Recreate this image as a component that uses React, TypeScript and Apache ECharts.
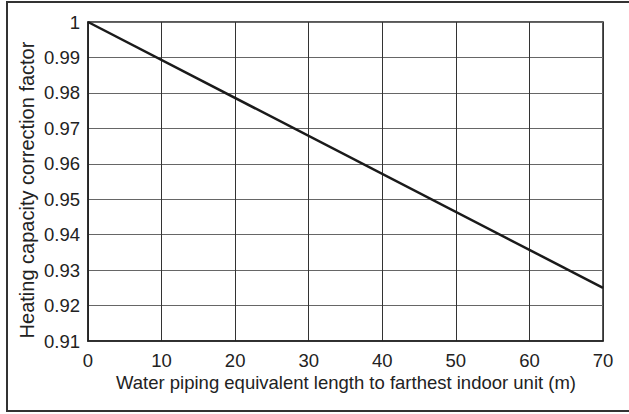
import React, { useEffect, useRef } from "react";
import * as echarts from "echarts";

const lengthX: number[] = [0, 70];
const correctionY: number[] = [1.0, 0.925];
const xTitle = "Water piping equivalent length to farthest indoor unit (m)";
const yTitle = "Heating capacity correction factor";
const xMin = 0, xMax = 70, xStep = 10;
const yMin = 0.91, yMax = 1.0, yStep = 0.01;

const FONT = "'Liberation Sans', Arial, Helvetica, sans-serif";

export default function App() {
  const ref = useRef<HTMLDivElement>(null);
  useEffect(() => {
    if (!ref.current) return;
    const chart = echarts.init(ref.current, undefined, { renderer: "svg" });
    chart.setOption({
      animation: false,
      backgroundColor: "#ffffff",
      grid: {
        left: 88,
        right: 26,
        top: 22,
        bottom: 73,
        show: true,
        borderColor: "#222",
        borderWidth: 1.5,
        containLabel: false,
      },
      xAxis: {
        type: "value",
        min: xMin,
        max: xMax,
        interval: xStep,
        axisLine: { show: true, lineStyle: { color: "#222", width: 1.5 } },
        axisTick: { show: false },
        axisLabel: { color: "#222", fontSize: 18.5, fontFamily: FONT, margin: 10 },
        splitLine: { show: true, lineStyle: { color: "#333", width: 1 } },
      },
      yAxis: {
        type: "value",
        min: yMin,
        max: yMax,
        interval: yStep,
        axisLine: { show: true, lineStyle: { color: "#222", width: 1.5 } },
        axisTick: { show: false },
        axisLabel: {
          color: "#222",
          fontSize: 18.5,
          fontFamily: FONT,
          margin: 8,
          formatter: (v: number) => String(parseFloat(v.toFixed(2))),
        },
        splitLine: { show: true, lineStyle: { color: "#666", width: 1 } },
      },
      series: [
        {
          type: "line",
          data: lengthX.map((x, i) => [x, correctionY[i]]),
          symbol: "none",
          lineStyle: { color: "#1a1a1a", width: 2.5 },
          z: 5,
        },
      ],
      graphic: [
        {
          type: "rect",
          shape: { x: 7, y: 2, width: 630, height: 409 },
          style: { fill: "none", stroke: "#333", lineWidth: 2 },
          silent: true,
        },
        {
          type: "text",
          x: 346,
          y: 382,
          style: {
            text: xTitle,
            font: `18.5px ${FONT}`,
            fill: "#222",
            textAlign: "center",
            textVerticalAlign: "middle",
            align: "center",
            verticalAlign: "middle",
          },
        },
        {
          type: "text",
          x: 27,
          y: 190,
          rotation: Math.PI / 2,
          style: {
            text: yTitle,
            font: `20px ${FONT}`,
            fill: "#222",
            textAlign: "center",
            textVerticalAlign: "middle",
            align: "center",
            verticalAlign: "middle",
          },
        },
      ],
    });
    return () => chart.dispose();
  }, []);
  return (
    <div
      ref={ref}
      style={{ position: "fixed", left: 0, top: 0, width: 629, height: 414 }}
    />
  );
}
